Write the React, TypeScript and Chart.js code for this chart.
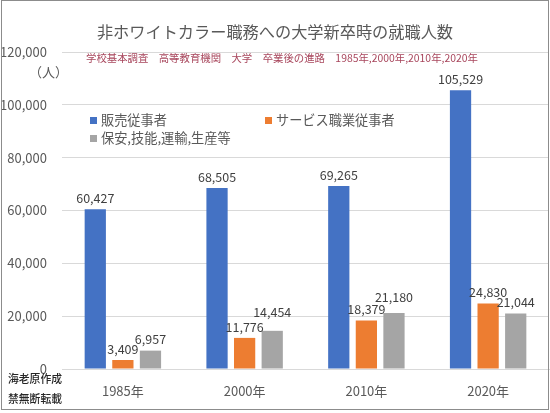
import React, { useEffect, useRef } from "react";
import { Chart, registerables } from "chart.js";

Chart.register(...registerables);

const categories = ["1985年", "2000年", "2010年", "2020年"];
const salesWorkers = [60427, 68505, 69265, 105529];
const serviceWorkers = [3409, 11776, 18379, 24830];
const productionWorkers = [6957, 14454, 21180, 21044];
const seriesNames = ["販売従事者", "サービス職業従事者", "保安,技能,運輸,生産等"];
const seriesColors = ["#4472C4", "#ED7D31", "#A5A5A5"];
const yTicks = [0, 20000, 40000, 60000, 80000, 100000, 120000];

const FONT = "'Noto Sans CJK JP', 'Noto Sans', sans-serif";
const fmt = (v: number) => v.toLocaleString("en-US");

// manual nudges of a few data labels (dataset index, point index) -> vertical shift in px
const labelNudges: Record<string, number> = { "2-1": -8, "2-2": -5 };

const valueLabels = {
  id: "valueLabels",
  afterDatasetsDraw(chart: any) {
    const ctx = chart.ctx;
    ctx.save();
    ctx.font = `12.5px ${FONT}`;
    ctx.fillStyle = "#404040";
    ctx.textAlign = "center";
    ctx.textBaseline = "middle";
    chart.data.datasets.forEach((ds: any, i: number) => {
      const meta = chart.getDatasetMeta(i);
      meta.data.forEach((el: any, j: number) => {
        const dy = labelNudges[`${i}-${j}`] || 0;
        ctx.fillText(fmt(ds.data[j]), el.x, el.y - 11 + dy);
      });
    });
    ctx.restore();
  },
};

export default function App() {
  const ref = useRef<HTMLCanvasElement>(null);
  useEffect(() => {
    if (!ref.current) return;
    Chart.defaults.font.family = FONT;
    const chart = new Chart(ref.current, {
      type: "bar",
      data: {
        labels: categories,
        datasets: [salesWorkers, serviceWorkers, productionWorkers].map((d, i) => ({
          label: seriesNames[i],
          data: d,
          backgroundColor: seriesColors[i],
          categoryPercentage: 0.68,
          barPercentage: 0.77,
        })),
      },
      options: {
        animation: false,
        responsive: false,
        maintainAspectRatio: false,
        layout: { padding: { top: 52, right: 1, left: 0, bottom: 0 } },
        plugins: { legend: { display: false }, tooltip: { enabled: false }, title: { display: false } },
        scales: {
          x: {
            grid: { display: false, drawTicks: false },
            border: { display: true, color: "#d9d9d9" },
            ticks: { color: "#595959", font: { size: 13, family: FONT }, padding: 14 },
            afterFit: (s: any) => { s.height = 44; },
          },
          y: {
            min: 0,
            max: 120000,
            afterBuildTicks: (s: any) => { s.ticks = yTicks.map((v) => ({ value: v })); },
            grid: { color: "#d9d9d9", drawTicks: false },
            border: { display: false },
            ticks: {
              color: "#595959",
              font: { size: 13, family: FONT },
              padding: 15,
              callback: (v: any) => fmt(Number(v)),
            },
            afterFit: (s: any) => { s.width = 62; },
          },
        },
      },
      plugins: [valueLabels],
    });
    return () => chart.destroy();
  }, []);

  const abs = (extra: React.CSSProperties): React.CSSProperties => ({
    position: "absolute",
    whiteSpace: "nowrap",
    fontFamily: FONT,
    ...extra,
  });

  return (
    <div style={{ position: "fixed", left: 0, top: 0, width: 550, height: 413, background: "#fff", overflow: "hidden" }}>
      <canvas ref={ref} width={550} height={413} style={{ position: "absolute", left: 0, top: 0, width: 550, height: 413 }} />
      <div style={{ position: "absolute", left: 1, top: 0, width: 548, height: 410, boxSizing: "border-box", border: "1px solid #8c8c8c" }} />
      <div style={abs({ left: 0, width: 550, top: 20, height: 22, lineHeight: "22px", textAlign: "center", fontSize: 16.2, color: "#595959" })}>
        非ホワイトカラー職務への大学新卒時の就職人数
      </div>
      <div style={abs({ left: 86, top: 51, height: 14, lineHeight: "14px", fontSize: 10.4, color: "#a8465c" })}>
        学校基本調査　高等教育機関　大学　卒業後の進路　1985年,2000年,2010年,2020年
      </div>
      <div style={abs({ left: 29, top: 63, height: 18, lineHeight: "18px", fontSize: 13, color: "#595959" })}>（人）</div>
      {[0, 1, 2].map((i) => {
        const left = i === 1 ? 265 : 90;
        const top = i === 2 ? 138 : 120;
        return (
          <div key={i} style={abs({ left, top: top - 9, height: 18, lineHeight: "18px", fontSize: 13.2, color: "#595959", display: "flex", alignItems: "center" })}>
            <span style={{ display: "inline-block", width: 7, height: 7, background: seriesColors[i], marginRight: 4 }} />
            {seriesNames[i]}
          </div>
        );
      })}
      <div style={abs({ left: 8, top: 370, height: 16, lineHeight: "16px", fontSize: 10.8, color: "#262626", fontWeight: 500 })}>海老原作成</div>
      <div style={abs({ left: 8, top: 390, height: 16, lineHeight: "16px", fontSize: 10.8, color: "#262626", fontWeight: 500 })}>禁無断転載</div>
    </div>
  );
}
